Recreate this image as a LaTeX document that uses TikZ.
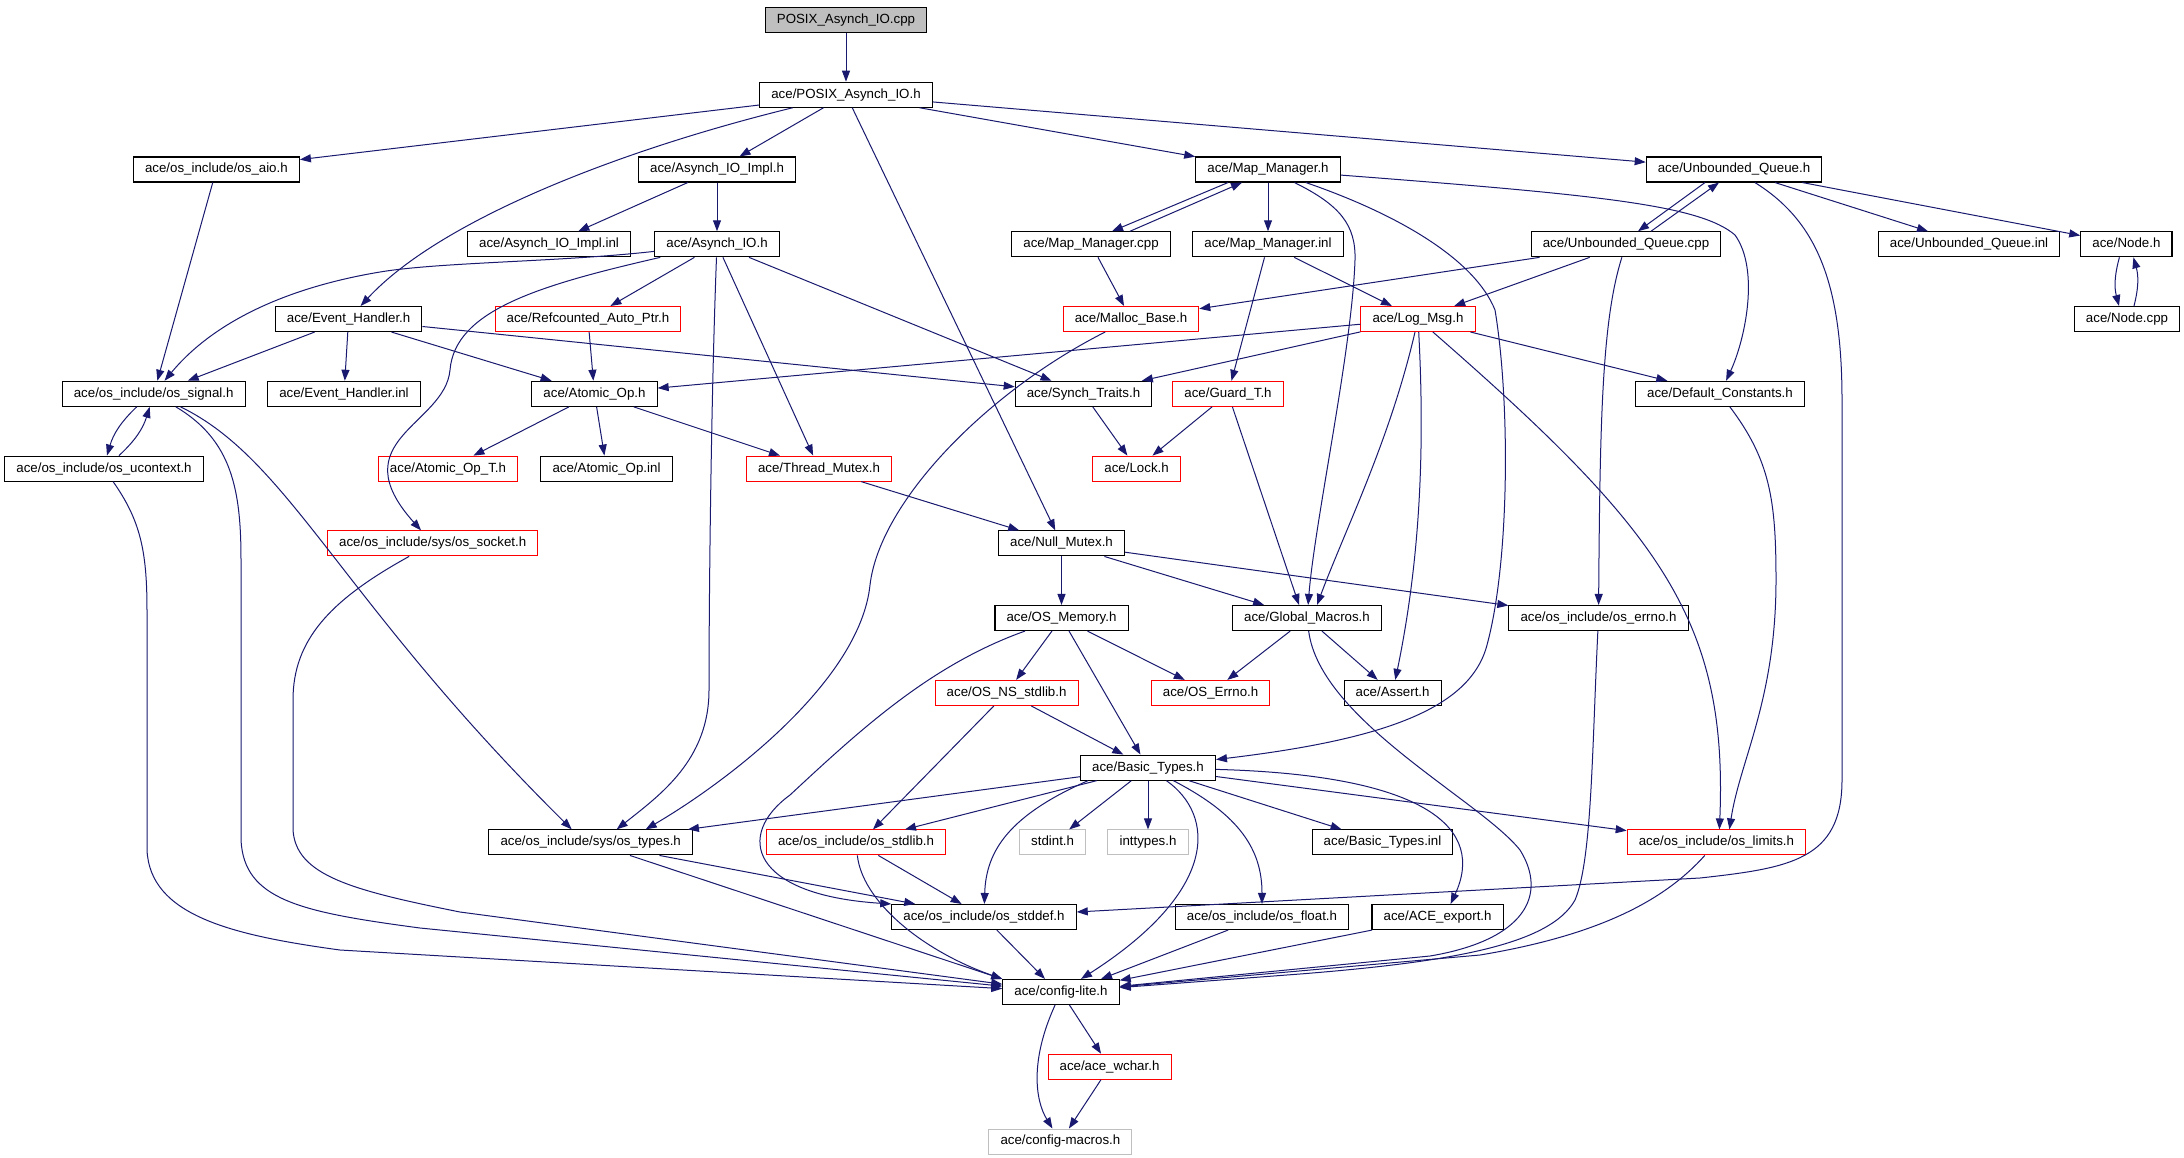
\documentclass[tikz,border=0pt]{standalone}
\usepackage{fontspec}
\setmainfont{Liberation Sans}
\usepackage{tikz}
\usetikzlibrary{arrows.meta}

\definecolor{edgeblue}{HTML}{191970}
\definecolor{sysgray}{HTML}{BFBFBF}

\begin{document}
\begin{tikzpicture}[->,>={Triangle[length=11pt,width=8pt]},x=1pt,y=-1pt,line width=1pt,
    every edge/.style={draw=edgeblue},
    dep/.style={draw=edgeblue},
    file/.style={rectangle,draw=black,line width=1.1pt,fill=white,
        font=\fontsize{13.3}{15}\selectfont,inner xsep=11.6pt,inner ysep=0pt,
        minimum height=25pt,text height=9.6pt,text depth=2.8pt},
    redfile/.style={file,draw=red,line width=1pt},
    sysfile/.style={file,draw=sysgray,line width=1pt},
    srcfile/.style={file,fill=sysgray}]
        \path[use as bounding box,fill=white] (0,0) rectangle (2184,1157);

        \node[srcfile]  (cpp)    at (846,20)       {POSIX\_Asynch\_IO.cpp};
        \node[file]     (PAH)    at (846,94.7)     {ace/POSIX\_Asynch\_IO.h};
        \node[file]     (aio)    at (216.4,169.5)  {ace/os\_include/os\_aio.h};
        \node[file]     (AIMPL)  at (717,169.5)    {ace/Asynch\_IO\_Impl.h};
        \node[file]     (MMH)    at (1268,169.5)   {ace/Map\_Manager.h};
        \node[file]     (UQH)    at (1734,169.5)   {ace/Unbounded\_Queue.h};
        \node[file]     (AIMPLI) at (549,244.3)    {ace/Asynch\_IO\_Impl.inl};
        \node[file]     (AIO)    at (717,244.3)    {ace/Asynch\_IO.h};
        \node[file]     (MMC)    at (1091,244.3)   {ace/Map\_Manager.cpp};
        \node[file]     (MMI)    at (1268,244.3)   {ace/Map\_Manager.inl};
        \node[file]     (UQC)    at (1626,244.3)   {ace/Unbounded\_Queue.cpp};
        \node[file]     (UQI)    at (1969,244.3)   {ace/Unbounded\_Queue.inl};
        \node[file]     (NODEH)  at (2126.4,244.3) {ace/Node.h};
        \node[file]     (EH)     at (348.6,319)    {ace/Event\_Handler.h};
        \node[redfile]  (RAP)    at (588,319)      {ace/Refcounted\_Auto\_Ptr.h};
        \node[redfile]  (MB)     at (1131,319)     {ace/Malloc\_Base.h};
        \node[redfile]  (LM)     at (1418,319)     {ace/Log\_Msg.h};
        \node[file]     (NODEC)  at (2127,319)     {ace/Node.cpp};
        \node[file]     (SIG)    at (153.7,393.8)  {ace/os\_include/os\_signal.h};
        \node[file]     (EHI)    at (344,393.8)    {ace/Event\_Handler.inl};
        \node[file]     (AOP)    at (594.5,393.8)  {ace/Atomic\_Op.h};
        \node[file]     (ST)     at (1083.5,393.8) {ace/Synch\_Traits.h};
        \node[redfile]  (GT)     at (1228,393.8)   {ace/Guard\_T.h};
        \node[file]     (DC)     at (1720,393.8)   {ace/Default\_Constants.h};
        \node[file]     (UCX)    at (104,468.6)    {ace/os\_include/os\_ucontext.h};
        \node[redfile]  (AOPT)   at (448,468.6)    {ace/Atomic\_Op\_T.h};
        \node[file]     (AOPI)   at (606.5,468.6)  {ace/Atomic\_Op.inl};
        \node[redfile]  (TM)     at (819,468.6)    {ace/Thread\_Mutex.h};
        \node[redfile]  (LOCK)   at (1136.6,468.6) {ace/Lock.h};
        \node[redfile]  (OSS)    at (432.7,543.4)  {ace/os\_include/sys/os\_socket.h};
        \node[file]     (NM)     at (1061.5,543.4) {ace/Null\_Mutex.h};
        \node[file]     (OSM)    at (1061.5,618)   {ace/OS\_Memory.h};
        \node[file]     (GM)     at (1307,618)     {ace/Global\_Macros.h};
        \node[file]     (OSE)    at (1598.5,618)   {ace/os\_include/os\_errno.h};
        \node[redfile]  (NSL)    at (1006.6,692.9) {ace/OS\_NS\_stdlib.h};
        \node[redfile]  (OERR)   at (1210.6,692.9) {ace/OS\_Errno.h};
        \node[file]     (AST)    at (1392.6,692.9) {ace/Assert.h};
        \node[file]     (BT)     at (1148,767.6)   {ace/Basic\_Types.h};
        \node[file]     (OST)    at (590.7,842.4)  {ace/os\_include/sys/os\_types.h};
        \node[redfile]  (STDL)   at (856,842.4)    {ace/os\_include/os\_stdlib.h};
        \node[sysfile]  (SINT)   at (1052.6,842.4) {stdint.h};
        \node[sysfile]  (ITY)    at (1148,842.4)   {inttypes.h};
        \node[file]     (BTI)    at (1382.5,842.4) {ace/Basic\_Types.inl};
        \node[redfile]  (LIM)    at (1716.4,842.4) {ace/os\_include/os\_limits.h};
        \node[file]     (OSD)    at (984,917)      {ace/os\_include/os\_stddef.h};
        \node[file]     (OSF)    at (1262,917)     {ace/os\_include/os\_float.h};
        \node[file]     (AEX)    at (1437.6,917)   {ace/ACE\_export.h};
        \node[file]     (CL)     at (1061,992)     {ace/config-lite.h};
        \node[redfile]  (WCH)    at (1109.5,1066.7) {ace/ace\_wchar.h};
        \node[sysfile]  (CM)     at (1060.4,1141.5) {ace/config-macros.h};

        \path (cpp)   edge (PAH)
              (PAH)   edge (aio)
                      edge (AIMPL)
                      edge (NM)
                      edge (MMH)
                      edge (UQH)
              (aio)   edge (SIG)
              (AIMPL) edge (AIMPLI)
                      edge (AIO)
              (AIO)   edge (RAP)
                      edge (TM)
                      edge (ST)
              (EH)    edge (SIG)
                      edge (EHI)
                      edge (AOP)
                      edge (ST)
              (RAP)   edge (AOP)
              (MMH)   edge (MMI)
              (MMC)   edge (MB)
              (MMI)   edge (GT)
                      edge (LM)
              (UQH)   edge (UQI)
                      edge (NODEH)
              (UQC)   edge (MB)
                      edge (LM)
              (LM)    edge (AOP)
                      edge (ST)
                      edge (DC)
              (AOP)   edge (AOPT)
                      edge (AOPI)
                      edge (TM)
              (TM)    edge (NM)
              (ST)    edge (LOCK)
              (GT)    edge (LOCK)
                      edge ([xshift=-8pt]GM.north)
              (NM)    edge (OSM)
                      edge (GM)
                      edge (OSE)
              (OSM)   edge (NSL)
                      edge (OERR)
                      edge (BT)
              (GM)    edge (OERR)
                      edge (AST)
              (NSL)   edge (BT)
                      edge ([xshift=17pt]STDL.north)
              (BT)    edge (OST)
                      edge ([xshift=49pt]STDL.north)
                      edge (SINT)
                      edge (ITY)
                      edge (BTI)
                      edge (LIM)
              (OST)   edge ([xshift=24pt]OSD.north west)
                      edge (CL.north west)
              (STDL)  edge (OSD)
              (OSD)   edge ([xshift=-16pt]CL.north)
              (OSF)   edge ([xshift=40pt]CL.north)
              (AEX)   edge (CL)
              (CL)    edge (WCH)
              (WCH)   edge (CM);

        \path ([xshift=-40pt]MMH.south) edge ([xshift=21pt]MMC.north)
              ([xshift=39pt]MMC.north)  edge ([xshift=-26pt]MMH.south)
              ([xshift=-29pt]UQH.south) edge ([xshift=12pt]UQC.north)
              ([xshift=25pt]UQC.north)  edge ([xshift=-15pt]UQH.south)
              ([xshift=-7pt]NODEH.south) edge[bend right=15] ([xshift=-8pt]NODEC.north)
              ([xshift=7pt]NODEC.north) edge[bend right=15] ([xshift=7pt]NODEH.south)
              ([xshift=-17pt]SIG.south) edge[bend right=15] ([xshift=3pt]UCX.north)
              ([xshift=15pt]UCX.north)  edge[bend right=15] ([xshift=-4pt]SIG.south);

        \draw[dep] (PAH) .. controls (620,150) and (440,220) .. (EH);
        \draw[dep] (AIO) .. controls (560,262) and (440,262) .. (380,272)
                         .. controls (290,287) and (215,320) .. (SIG);
        \draw[dep] (AIO) .. controls (540,285) and (455,310) .. (450,370)
                         .. controls (445,425) and (340,440) .. (OSS);
        \draw[dep] (AIO) .. controls (711,400) and (709,600) .. (709,690)
                         .. controls (709,760) and (660,795) .. ([xshift=26pt]OST.north);
        \draw[dep] (MMH) .. controls (1340,205) and (1356,225) .. (1355,260)
                         .. controls (1352,350) and (1315,520) .. (GM);
        \draw[dep] (MMH) .. controls (1400,215) and (1475,260) .. (1495,310)
                         .. controls (1510,400) and (1510,560) .. (1487,645)
                         .. controls (1470,710) and (1380,740) .. (BT);
        \draw[dep] (MMH) .. controls (1600,195) and (1700,205) .. (1735,235)
                         .. controls (1760,270) and (1745,340) .. (DC);
        \draw[dep] (UQC) .. controls (1602,320) and (1600,420) .. (OSE);
        \draw[dep] (UQH) .. controls (1815,220) and (1842,280) .. (1842,400) -- (1842,780)
                         .. controls (1842,860) and (1790,868) .. (1700,878) -- (OSD);
        \draw[dep] (MB) .. controls (990,390) and (880,500) .. (870,585)
                        .. controls (860,680) and (730,780) .. ([xshift=55pt]OST.north);
        \draw[dep] (LM) .. controls (1390,440) and (1345,530) .. ([xshift=10pt]GM.north);
        \draw[dep] (LM) .. controls (1425,450) and (1420,560) .. (AST);
        \draw[dep] (LM) .. controls (1660,530) and (1728,620) .. ([xshift=3pt]LIM.north);
        \draw[dep] (DC) .. controls (1770,460) and (1776,500) .. (1776,580)
                        .. controls (1776,700) and (1740,760) .. ([xshift=13pt]LIM.north);
        \draw[dep] (SIG) .. controls (290,460) and (340,600) .. ([xshift=-19pt]OST.north);
        \draw[dep] (SIG) .. controls (232,440) and (241,490) .. (241,560) -- (241,840)
                         .. controls (244,900) and (300,912) .. (420,928) -- (CL);
        \draw[dep] (UCX) .. controls (140,520) and (147,550) .. (147,610) -- (147,850)
                         .. controls (150,915) and (230,935) .. (340,950) -- (CL);
        \draw[dep] (OSS) .. controls (330,600) and (293,640) .. (293,700) -- (293,830)
                         .. controls (296,875) and (350,890) .. (460,912) -- (CL);
        \draw[dep] (OSM) .. controls (930,665) and (860,730) .. (790,795)
                         .. controls (735,835) and (750,895) .. (OSD.north west);
        \draw[dep] (GM) .. controls (1320,720) and (1480,800) .. (1520,850)
                        .. controls (1548,895) and (1525,940) .. (1430,956) -- (CL);
        \draw[dep] (OSE) .. controls (1592,750) and (1592,860) .. (1575,900)
                         .. controls (1550,945) and (1450,962) .. (1300,974) -- (CL);
        \draw[dep] (LIM) .. controls (1665,900) and (1600,935) .. (1480,955) -- (CL);
        \draw[dep] ([xshift=-60pt]BT.south) .. controls (1010,815) and (986,850) .. (OSD);
        \draw[dep] (BT) .. controls (1215,815) and (1220,890) .. ([xshift=20pt]CL.north);
        \draw[dep] (BT) .. controls (1240,815) and (1262,850) .. (OSF);
        \draw[dep] (BT) .. controls (1430,775) and (1485,830) .. ([xshift=13pt]AEX.north);
        \draw[dep] (STDL) .. controls (862,900) and (920,950) .. (CL.north west);
        \draw[dep] (CL) .. controls (1030,1060) and (1035,1100) .. (CM);
\end{tikzpicture}
\end{document}
